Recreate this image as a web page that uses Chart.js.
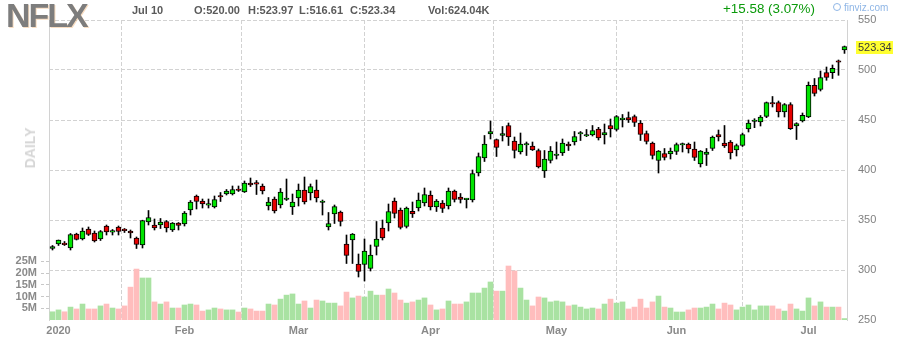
<!DOCTYPE html>
<html><head><meta charset="utf-8">
<script src="https://cdn.jsdelivr.net/npm/chart.js@4.4.1/dist/chart.umd.min.js"></script>
<style>
html,body{margin:0;padding:0;background:#fff;}
#wrap{position:relative;width:898px;height:340px;overflow:hidden;font-family:Arial,"Liberation Sans",sans-serif;}
canvas{position:absolute;left:0;top:0;}
.t{position:absolute;white-space:nowrap;}
.s{font:bold 11px/11px Arial,"Liberation Sans",sans-serif;color:#5a5a5a;top:5px;}
</style></head><body>
<div id="wrap">
<canvas id="c" width="898" height="340"></canvas>
<div class="t" style="left:6px;top:-2px;font:bold 34px/34px Arial,'Liberation Sans',sans-serif;letter-spacing:-2px;color:#7d7d7d;text-shadow:1px 1px 0 rgba(240,180,120,0.45);">NFLX</div>
<div class="t s" style="left:132px;">Jul 10</div>
<div class="t s" style="left:194px;">O:520.00</div>
<div class="t s" style="left:248px;">H:523.97</div>
<div class="t s" style="left:299px;">L:516.61</div>
<div class="t s" style="left:350px;">C:523.34</div>
<div class="t s" style="left:428px;">Vol:624.04K</div>
<div class="t" style="left:723px;top:2px;font:13.4px/13px Arial,'Liberation Sans',sans-serif;color:#0b9a0b;">+15.58 (3.07%)</div>
<div class="t" style="left:833px;top:3px;font:10px/10px Arial,'Liberation Sans',sans-serif;color:#8fb6e6;"><span style="display:inline-block;width:6px;height:6px;border:1px solid #8fb6e6;border-radius:4px;margin-right:3px;vertical-align:0px;"></span>finviz.com</div>
<div class="t" style="left:30px;top:148px;transform:translate(-50%,-50%) rotate(-90deg);font:bold 14px/14px Arial,'Liberation Sans',sans-serif;color:#d6d6d6;">DAILY</div>
</div>
<script>
const dates = ['2019-12-31',
'2020-01-02','2020-01-03','2020-01-06','2020-01-07','2020-01-08','2020-01-09','2020-01-10','2020-01-13','2020-01-14','2020-01-15','2020-01-16','2020-01-17','2020-01-21','2020-01-22','2020-01-23','2020-01-24','2020-01-27','2020-01-28','2020-01-29','2020-01-30','2020-01-31',
'2020-02-03','2020-02-04','2020-02-05','2020-02-06','2020-02-07','2020-02-10','2020-02-11','2020-02-12','2020-02-13','2020-02-14','2020-02-18','2020-02-19','2020-02-20','2020-02-21','2020-02-24','2020-02-25','2020-02-26','2020-02-27','2020-02-28',
'2020-03-02','2020-03-03','2020-03-04','2020-03-05','2020-03-06','2020-03-09','2020-03-10','2020-03-11','2020-03-12','2020-03-13','2020-03-16','2020-03-17','2020-03-18','2020-03-19','2020-03-20','2020-03-23','2020-03-24','2020-03-25','2020-03-26','2020-03-27','2020-03-30','2020-03-31',
'2020-04-01','2020-04-02','2020-04-03','2020-04-06','2020-04-07','2020-04-08','2020-04-09','2020-04-13','2020-04-14','2020-04-15','2020-04-16','2020-04-17','2020-04-20','2020-04-21','2020-04-22','2020-04-23','2020-04-24','2020-04-27','2020-04-28','2020-04-29','2020-04-30',
'2020-05-01','2020-05-04','2020-05-05','2020-05-06','2020-05-07','2020-05-08','2020-05-11','2020-05-12','2020-05-13','2020-05-14','2020-05-15','2020-05-18','2020-05-19','2020-05-20','2020-05-21','2020-05-22','2020-05-26','2020-05-27','2020-05-28','2020-05-29',
'2020-06-01','2020-06-02','2020-06-03','2020-06-04','2020-06-05','2020-06-08','2020-06-09','2020-06-10','2020-06-11','2020-06-12','2020-06-15','2020-06-16','2020-06-17','2020-06-18','2020-06-19','2020-06-22','2020-06-23','2020-06-24','2020-06-25','2020-06-26','2020-06-29','2020-06-30',
'2020-07-01','2020-07-02','2020-07-06','2020-07-07','2020-07-08','2020-07-09','2020-07-10'];

const open = [321.5,
326,326,322,336,331,341,337,331,344,337.8,343,340,339,332,325,348,345,345,348.5,340,347,
346,360,374,369,364.8,363,373.7,376,376,381,378,387,386.5,384,364,371,365,370.5,363,
372,380,377,380,367.5,343,356,358,326,330,306,305.5,301.5,323.5,342,347,369,360,343.5,358.6,362,367,
375,363,367,364,379,373,370.3,370,397,412,436,430.5,434.5,444.5,429,418,425,424,419.5,399,409.5,
414.5,417,426,428,436,434,435,441,435,444.5,440.5,450.4,452.5,453.5,447,436.5,427,409.5,416.5,416.2,
418.5,425,426,421,406,415.5,421.5,435.5,427,428,420,424.5,441,448.5,448,453.6,466.5,467.3,458,465.5,444,449,
453,484.7,480.5,497.3,497.3,508,520];
const high = [324.5,
330,328.5,336.5,336.8,342,343,339,339.5,345,340.5,344,341.5,340,333,349.8,359.5,351,351.5,349.5,347.5,347.5,
358.5,369.5,375,371,371,374,377.5,380.5,384,384,389,392,389.5,386,372.5,373,381.5,391,376,
386,393,386,390,370,357.5,365,359,335,336.5,316,331,325,348.5,350,366,372,362,363,368,377,382,
379,370.5,369.5,382,380,376.5,371.5,400,417,434.5,449,431,443.5,447,433,437,428,428,421,419.5,423.5,
428,431,428,438.5,438.5,440.5,444.5,442.7,446,451,454.5,455.5,458,455,449.5,439,428,419.5,421.5,422,
427,427,427,428,419.5,421.5,434,440,444.5,429.5,426,437,450,451.3,454.5,468,473.5,469,466.5,467.3,447.3,457,
488,491.5,499,503,505,510,523.97];
const low = [320,
324.5,324.5,320,330,330,334.5,328,329.5,335,335,335,337.5,332,321.5,322,345,340,341.5,338,338.5,340,
344,355,361,362,362,362,368.5,375,375,378.5,377.5,383.5,375.5,376,360,357,362,369.5,355.5,
364,366,370,368,355,340,346.5,344,306.5,306.5,293,289,299,315,330,339,352,341,342,352.5,359,364,
360,358.5,357.5,361,368,367,362,368,394,408.5,431,413.5,429,424.5,412,416,414.5,419.5,402,392.5,407,
411,414.5,419.5,425,429.5,433.3,434,430,426,433,439,443,447.5,443.5,429.5,426,411,397,410,411,
415.5,418,417,409.5,403,404.5,419.5,429,422.5,411,414,423.5,438,442.3,444,452.3,463,453,453,440.5,430.5,448,
452.3,474,479,489.7,491.5,494.7,516.61];
const close = [323.5,
329.8,325.3,335.5,330.5,339,335.5,329,338.5,338,338.3,338.5,339.3,337,325.5,349.5,352.5,342,348,342,347,344.5,
357,368,368.5,366,366.5,370.5,373,379,380.5,379.5,387,385,385.8,379,368,359,378,371,368,
380,368,383.5,372,368,346.5,363.5,348.5,314.5,336,298.5,319,315,331,332,358.5,356.5,342.5,362,356,370,375.5,
363,369,361.5,379,370.6,370.5,370.7,396.5,413.5,426,438.5,422.5,436.5,433,419.5,426,425.4,420,403,411,419,
415,427,424,433.5,436.5,435,439.5,432,437.5,441,453.5,451,450,447.5,435.5,428.5,414.5,419,412.5,419,
425.5,426,421,412.5,419,418,433,433,424,417,424.5,435.3,447,449,453,467.3,466,458,465.5,441.3,446.3,454.6,
484.7,476.5,492.5,492.7,501.7,507.76,523.34];
const volumeM = [3.5,
4.3,3.5,5.5,4.7,6.8,4.7,4.7,6.0,6.8,5.1,4.7,6.0,14.0,21.7,17.9,17.9,7.7,6.8,7.7,5.1,5.1,
6.4,6.8,6.4,3.8,4.3,5.1,4.7,4.3,4.3,3.4,5.1,4.7,3.8,3.8,6.8,6.4,8.9,10.6,11.1,
6.8,8.1,5.1,8.5,8.1,7.2,7.2,6.0,11.9,9.4,10.2,9.8,12.3,10.6,10.6,13.2,11.5,8.5,7.2,7.7,8.5,9.4,
6.4,4.3,4.7,8.1,6.8,6.8,7.7,11.5,11.5,13.6,16.2,12.3,12.3,23.0,20.9,13.6,8.5,6.0,9.8,9.4,7.7,
8.1,7.7,6.0,6.4,5.5,4.7,5.1,4.7,6.8,8.9,7.2,7.7,4.7,5.5,8.9,5.1,7.7,10.2,5.5,5.1,
3.4,3.4,4.3,5.1,5.1,5.5,6.8,4.7,7.2,6.4,4.3,5.5,6.4,4.3,6.0,6.0,6.0,4.7,3.8,6.8,4.7,3.8,
9.4,6.0,7.7,5.5,5.5,5.5,0.624];

const priceTicks = [250,300,350,400,450,500,550];
const volumeTicks = [5,10,15,20,25];
const monthNames = ['Jan','Feb','Mar','Apr','May','Jun','Jul','Aug','Sep','Oct','Nov','Dec'];

const monthStarts = [];
const monthLabel = {};
for (let i = 1; i < dates.length; i++) {
  const m = dates[i].slice(5,7), pm = dates[i-1].slice(5,7);
  if (m !== pm) { monthStarts.push(i); monthLabel[i] = m === '01' ? dates[i].slice(0,4) : monthNames[+m-1]; }
}
const idx = dates.map((d,i)=>i);
const up = close.map((c,i)=>c >= open[i]);
const last = close.length - 1;

const GRID = '#d2d2d2';
const lastPricePlugin = {
  id: 'lastPrice',
  afterDraw(chart) {
    const ctx = chart.ctx;
    const y = chart.scales.y.getPixelForValue(close[last]);
    const x0 = chart.chartArea.right + 9;
    ctx.save();
    ctx.fillStyle = '#ffff30';
    ctx.fillRect(x0, Math.round(y) - 6, 37, 13);
    ctx.fillStyle = '#3a3a3a';
    ctx.font = '11px Arial, "Liberation Sans", sans-serif';
    ctx.textBaseline = 'middle';
    ctx.textAlign = 'left';
    ctx.fillText(close[last].toFixed(2), x0 + 2, Math.round(y) + 1);
    ctx.restore();
  }
};

new Chart(document.getElementById('c'), {
  type: 'bar',
  data: {
    datasets: [
      { label: 'body', data: idx.map(i=>({x:i, y:[open[i], close[i]]})), yAxisID: 'y',
        backgroundColor: up.map(u=>u ? '#00e400' : '#e60000'), borderColor: '#000', borderWidth: 1,
        borderSkipped: false, barThickness: 5, minBarLength: 1.5, grouped: false, order: 1 },
      { label: 'wick', data: idx.map(i=>({x:i, y:[low[i], high[i]]})), yAxisID: 'y',
        backgroundColor: '#000', borderWidth: 0, barThickness: 1, grouped: false, order: 2 },
      { label: 'volume', data: idx.map(i=>({x:i, y:volumeM[i]})), yAxisID: 'yv',
        backgroundColor: up.map(u=>u ? '#a9e2a2' : '#ffbdbd'), borderWidth: 0, barThickness: 5, grouped: false, order: 3 }
    ]
  },
  options: {
    responsive: false, animation: false, devicePixelRatio: 1,
    layout: { padding: { top: 20, left: 0, right: 0, bottom: 0 } },
    plugins: { legend: { display: false }, tooltip: { enabled: false } },
    scales: {
      x: {
        type: 'linear', position: 'bottom', min: -0.5833, max: dates.length - 0.5833, offset: false,
        afterBuildTicks: s => { s.ticks = monthStarts.map(v=>({value:v})); },
        afterFit: s => { s.height = 20; },
        ticks: { callback: v => monthLabel[v] || '', autoSkip: false, maxRotation: 0, padding: 4,
                 color: '#8a8a8a', font: { family: 'Arial, "Liberation Sans", sans-serif', size: 11, weight: 'bold' } },
        grid: { color: GRID, drawTicks: false },
        border: { display: false, dash: [4,2] }
      },
      y: {
        position: 'right', min: 250, max: 550,
        afterBuildTicks: s => { s.ticks = priceTicks.map(v=>({value:v})); },
        afterFit: s => { s.width = 51; },
        ticks: { padding: 11, color: '#7f7f7f', font: { family: 'Arial, "Liberation Sans", sans-serif', size: 11 } },
        grid: { color: c => (c.tick && c.tick.value === 250) ? 'rgba(0,0,0,0)' : GRID, drawTicks: false },
        border: { display: true, color: GRID, dash: [4,2] }
      },
      yv: {
        position: 'left', min: 0, max: 127.8,
        afterBuildTicks: s => { s.ticks = volumeTicks.map(v=>({value:v})); },
        afterFit: s => { s.width = 49; },
        ticks: { padding: 4, callback: v => v + 'M', color: '#8a8a8a',
                 font: { family: 'Arial, "Liberation Sans", sans-serif', size: 11, weight: 'bold' } },
        grid: { drawOnChartArea: false, drawTicks: true, tickLength: 8, tickColor: '#c8c8c8', tickBorderDash: [3,2] },
        border: { display: true, color: GRID, dash: [4,2] }
      }
    }
  },
  plugins: [lastPricePlugin]
});
</script>
</body></html>
